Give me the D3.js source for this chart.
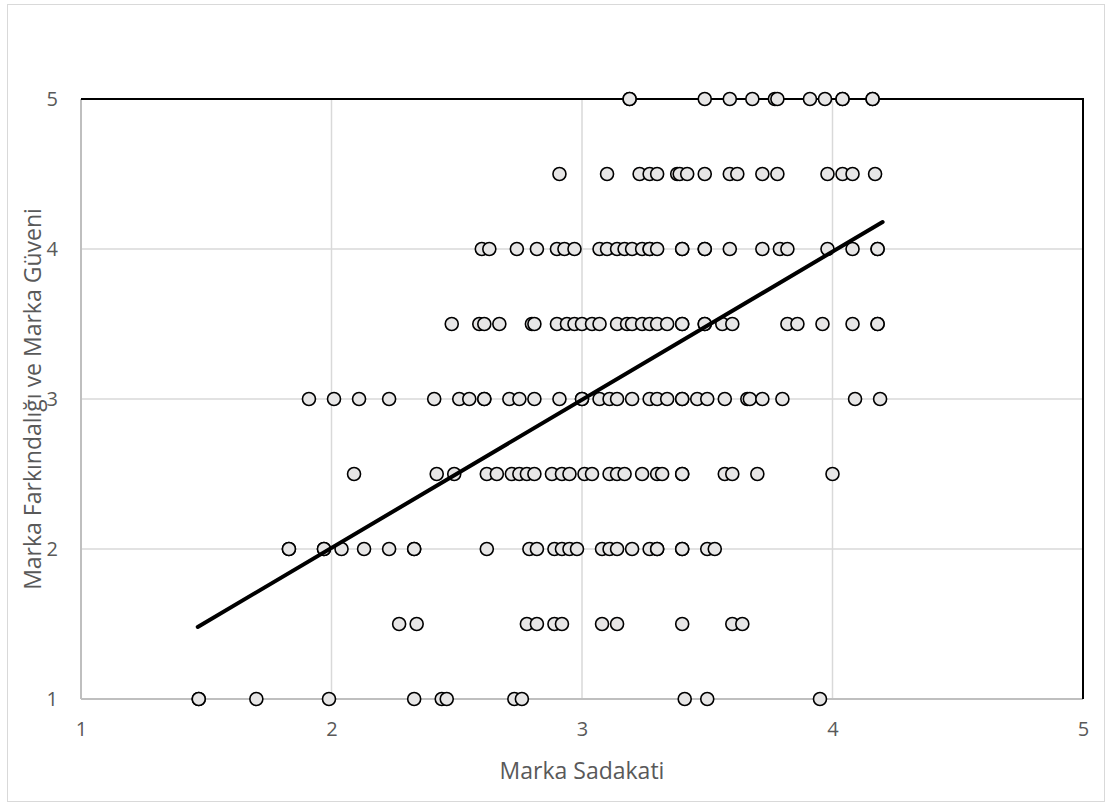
<!DOCTYPE html>
<html>
<head>
<meta charset="utf-8">
<script src="https://cdn.jsdelivr.net/npm/d3@7"></script>
<style>
  body { margin:0; background:#fff; }
  text { font-family: "Open Sans", "Noto Sans", sans-serif; fill:#595959; }
</style>
</head>
<body>
<div id="chart"></div>
<script>
// rows of the scatter: y value and the x values read on that row
var row5   = [3.19, 3.19, 3.49, 3.59, 3.68, 3.77, 3.78, 3.91, 3.97, 4.04, 4.04, 4.16, 4.16];
var row4_5 = [2.91, 3.10, 3.23, 3.27, 3.30, 3.38, 3.39, 3.42, 3.49, 3.59, 3.62, 3.72, 3.78, 3.98, 4.04, 4.08, 4.17];
var row4   = [2.60, 2.63, 2.74, 2.82, 2.90, 2.93, 2.97, 3.07, 3.10, 3.14, 3.17, 3.20, 3.24, 3.27, 3.27, 3.30,
              3.40, 3.40, 3.49, 3.49, 3.59, 3.72, 3.79, 3.82, 3.98, 4.08, 4.18, 4.18];
var row3_5 = [2.48, 2.59, 2.61, 2.67, 2.80, 2.81, 2.90, 2.94, 2.97, 3.00, 3.04, 3.07, 3.14, 3.18, 3.20, 3.24,
              3.27, 3.30, 3.34, 3.40, 3.40, 3.49, 3.49, 3.56, 3.60, 3.82, 3.86, 3.96, 4.08, 4.18, 4.18];
var row3   = [1.91, 2.01, 2.11, 2.23, 2.41, 2.51, 2.55, 2.61, 2.61, 2.71, 2.75, 2.81, 2.91, 3.00, 3.00, 3.07, 3.11,
              3.14, 3.20, 3.27, 3.30, 3.34, 3.40, 3.40, 3.46, 3.50, 3.57, 3.66, 3.67, 3.72, 3.80, 4.09, 4.19];
var row2_5 = [2.09, 2.42, 2.49, 2.62, 2.66, 2.72, 2.75, 2.78, 2.81, 2.88, 2.92, 2.95, 3.01, 3.04, 3.11,
              3.14, 3.17, 3.24, 3.30, 3.32, 3.40, 3.40, 3.57, 3.60, 3.70, 4.00];
var row2   = [1.83, 1.83, 1.97, 1.97, 2.04, 2.13, 2.23, 2.33, 2.33, 2.62, 2.79, 2.82, 2.89, 2.92, 2.95, 2.98,
              3.08, 3.11, 3.14, 3.20, 3.27, 3.30, 3.30, 3.40, 3.40, 3.50, 3.53];
var row1_5 = [2.27, 2.34, 2.78, 2.82, 2.89, 2.92, 3.08, 3.14, 3.40, 3.60, 3.64];
var row1   = [1.47, 1.47, 1.70, 1.99, 2.33, 2.44, 2.46, 2.73, 2.76, 3.41, 3.50, 3.95];

var rowY = [5, 4.5, 4, 3.5, 3, 2.5, 2, 1.5, 1];
var rows = [row5, row4_5, row4, row3_5, row3, row2_5, row2, row1_5, row1];

// linear trendline, ends
var trendX = [1.466, 4.20];
var trendY = [1.48, 4.18];

var xTicks = [1, 2, 3, 4, 5];
var yTicks = [1, 2, 3, 4, 5];
var xTitle = "Marka Sadakati";
var yTitle = "Marka Farkındalığı ve Marka Güveni";

var W = 1112, H = 807;
var m = {left:81, right:29, top:99, bottom:108};

var svg = d3.select("#chart").append("svg")
    .attr("width", W).attr("height", H);

// outer chart border
svg.append("rect")
    .attr("x", 7.5).attr("y", 4.5)
    .attr("width", 1097).attr("height", 797)
    .style("fill", "none").style("stroke", "#d9d9d9").style("stroke-width", 1);

var x = d3.scaleLinear().domain([1, 5]).range([m.left, W - m.right]);
var y = d3.scaleLinear().domain([1, 5]).range([H - m.bottom, m.top]);

// gridlines
var grid = svg.append("g").classed("grid", true);
grid.selectAll("line.v").data(xTicks.slice(1, -1)).enter().append("line")
    .attr("x1", function(d){return x(d);}).attr("x2", function(d){return x(d);})
    .attr("y1", y(1)).attr("y2", y(5))
    .style("stroke", "#d9d9d9").style("stroke-width", 1.5);
grid.selectAll("line.h").data(yTicks.slice(1, -1)).enter().append("line")
    .attr("x1", x(1)).attr("x2", x(5))
    .attr("y1", function(d){return y(d);}).attr("y2", function(d){return y(d);})
    .style("stroke", "#d9d9d9").style("stroke-width", 1.5);

// axes (grey) and top / right border (black)
svg.append("line").attr("x1", x(1)).attr("x2", x(1)).attr("y1", y(1)).attr("y2", y(5))
    .style("stroke", "#bfbfbf").style("stroke-width", 2);
svg.append("line").attr("x1", x(1)).attr("x2", x(5)).attr("y1", y(1)).attr("y2", y(1))
    .style("stroke", "#bfbfbf").style("stroke-width", 2);
svg.append("path")
    .attr("d", "M" + x(1) + "," + y(5) + "H" + x(5) + "V" + y(1))
    .style("fill", "none").style("stroke", "#000").style("stroke-width", 2);

// tick labels
var xAxis = d3.axisBottom(x).tickValues(xTicks).tickSize(0).tickPadding(23).tickFormat(d3.format("d"));
var gx = svg.append("g").attr("transform", "translate(0," + y(1) + ")").call(xAxis);
var yAxis = d3.axisLeft(y).tickValues(yTicks).tickSize(0).tickPadding(23).tickFormat(d3.format("d"));
var gy = svg.append("g").attr("transform", "translate(" + x(1) + ",0)").call(yAxis);
svg.selectAll(".domain").remove();
gx.attr("font-size", 20).attr("font-family", "'Open Sans', sans-serif");
gy.attr("font-size", 20).attr("font-family", "'Open Sans', sans-serif");
svg.selectAll(".tick text")
    .attr("fill", "#595959")
    .style("font-size", "20px").style("fill", "#595959");

// scatter points
var pts = [];
rows.forEach(function(r, i){
    r.forEach(function(v){ pts.push({x:v, y:rowY[i]}); });
});
svg.append("g").selectAll("circle").data(pts).enter().append("circle")
    .attr("cx", function(d){return x(d.x);})
    .attr("cy", function(d){return y(d.y);})
    .attr("r", 6.5)
    .style("fill", "#e7e6e6")
    .style("stroke", "#000").style("stroke-width", 1.6);

// trendline
svg.append("line")
    .attr("x1", x(trendX[0])).attr("y1", y(trendY[0]))
    .attr("x2", x(trendX[1])).attr("y2", y(trendY[1]))
    .style("stroke", "#000").style("stroke-width", 4).style("stroke-linecap", "round");

// axis titles
svg.append("text")
    .attr("x", (x(1) + x(5)) / 2).attr("y", 779)
    .attr("text-anchor", "middle")
    .style("font-size", "23px")
    .text(xTitle);
svg.append("text")
    .attr("transform", "translate(41," + ((y(1) + y(5)) / 2) + ") rotate(-90)")
    .attr("text-anchor", "middle")
    .style("font-size", "23px")
    .text(yTitle);
</script>
</body>
</html>
